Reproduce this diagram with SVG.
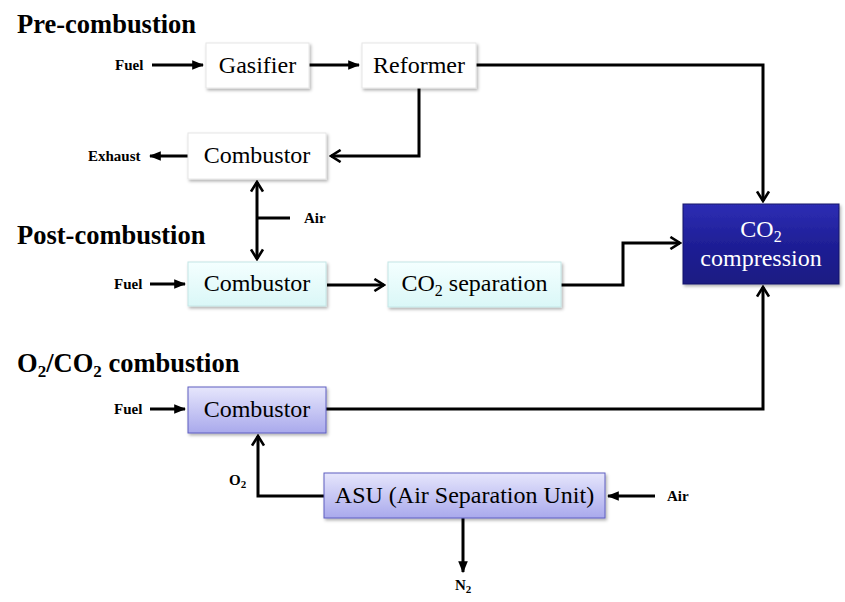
<svg xmlns="http://www.w3.org/2000/svg" width="845" height="602" viewBox="0 0 845 602">
<defs>
<filter id="sh" x="-10%" y="-10%" width="130%" height="140%">
<feDropShadow dx="1.5" dy="2" stdDeviation="1.5" flood-color="#000" flood-opacity="0.3"/>
</filter>
<linearGradient id="gCyan" x1="0" y1="0" x2="0" y2="1">
<stop offset="0" stop-color="#f4ffff"/><stop offset="1" stop-color="#daf7f7"/>
</linearGradient>
<linearGradient id="gLav" x1="0" y1="0" x2="0" y2="1">
<stop offset="0" stop-color="#e6e6fc"/><stop offset="1" stop-color="#a9a9ec"/>
</linearGradient>
<linearGradient id="gNavy" x1="0" y1="0" x2="0" y2="1">
<stop offset="0" stop-color="#2d2db4"/><stop offset="0.5" stop-color="#1f1f96"/><stop offset="1" stop-color="#1a1a82"/>
</linearGradient>
<marker id="tri" viewBox="0 0 10 10" refX="9" refY="5" markerWidth="4" markerHeight="4" orient="auto" markerUnits="strokeWidth">
<path d="M0,1 L10,5 L0,9 Z" fill="#000"/>
</marker>
<marker id="chev" viewBox="0 0 12 12" refX="10" refY="6" markerWidth="4.8" markerHeight="4.8" orient="auto" markerUnits="strokeWidth">
<path d="M2,1 L10,6 L2,11" fill="none" stroke="#000" stroke-width="2.2"/>
</marker>
<style>
text{font-family:'Liberation Serif','DejaVu Serif',serif}
.head{font-weight:bold;font-size:26.5px;fill:#000}
.lab{font-weight:bold;font-size:15px;fill:#000}
.bt{font-size:24px;fill:#000;text-anchor:middle}
.wt{font-size:24px;fill:#fff;text-anchor:middle}
.line{fill:none;stroke:#000;stroke-width:3}
.w{fill:#fff;stroke:#e6e6e6;stroke-width:1}
.c{fill:url(#gCyan);stroke:#c4e6e6;stroke-width:1}
.l{fill:url(#gLav);stroke:#5e5ec0;stroke-width:1}
.n{fill:url(#gNavy);stroke:#15156a;stroke-width:1}
</style>
</defs>
<rect width="845" height="602" fill="#fff"/>

<text class="head" x="17" y="33">Pre-combustion</text>
<text class="head" x="17" y="244">Post-combustion</text>
<text class="head" x="17" y="372">O<tspan font-size="17" dy="5">2</tspan><tspan dy="-5">/CO</tspan><tspan font-size="17" dy="5">2</tspan><tspan dy="-5"> combustion</tspan></text>

<g id="labels">
<text class="lab" x="115" y="70">Fuel</text>
<text class="lab" x="88" y="161">Exhaust</text>
<text class="lab" x="304" y="223">Air</text>
<text class="lab" x="114" y="289">Fuel</text>
<text class="lab" x="114" y="414">Fuel</text>
<text class="lab" x="229" y="485">O<tspan font-size="11" dy="3">2</tspan></text>
<text class="lab" x="667" y="501">Air</text>
<text class="lab" x="455" y="590">N<tspan font-size="11" dy="3">2</tspan></text>
</g>

<g id="connectors">
<path class="line" d="M152,65 H203" marker-end="url(#tri)"/>
<path class="line" d="M309,65 H359" marker-end="url(#tri)"/>
<path class="line" d="M476,65 H763 V201" marker-end="url(#chev)"/>
<path class="line" d="M419,88 V156 H331" marker-end="url(#chev)"/>
<path class="line" d="M188,156 H150" marker-end="url(#tri)"/>
<path class="line" d="M257,218 V182" marker-end="url(#chev)"/>
<path class="line" d="M257,218 V259" marker-end="url(#chev)"/>
<path class="line" d="M257,218 H290"/>
<path class="line" d="M150,284 H185" marker-end="url(#tri)"/>
<path class="line" d="M327,285 H384" marker-end="url(#chev)"/>
<path class="line" d="M561,285 H623 V243 H680" marker-end="url(#chev)"/>
<path class="line" d="M150,409 H185" marker-end="url(#tri)"/>
<path class="line" d="M326,409 H763 V287" marker-end="url(#chev)"/>
<path class="line" d="M324,496 H258 V436" marker-end="url(#chev)"/>
<path class="line" d="M655,496 H608" marker-end="url(#tri)"/>
<path class="line" d="M463,518 V572" marker-end="url(#tri)"/>
</g>

<g id="gasifier"><rect class="w" x="206" y="43" width="103" height="45" filter="url(#sh)"/><text class="bt" x="257.5" y="73">Gasifier</text></g>
<g id="reformer"><rect class="w" x="362" y="43" width="114" height="45" filter="url(#sh)"/><text class="bt" x="419" y="73">Reformer</text></g>
<g id="combustor-pre"><rect class="w" x="188" y="133" width="138" height="46" filter="url(#sh)"/><text class="bt" x="257" y="163">Combustor</text></g>
<g id="combustor-post"><rect class="c" x="188" y="262" width="138" height="44" filter="url(#sh)"/><text class="bt" x="257" y="291">Combustor</text></g>
<g id="co2-separation"><rect class="c" x="388" y="262" width="173" height="45" filter="url(#sh)"/><text class="bt" x="474.5" y="291">CO<tspan font-size="16" dy="5">2</tspan><tspan dy="-5"> separation</tspan></text></g>
<g id="co2-compression"><rect class="n" x="683" y="204" width="156" height="80" filter="url(#sh)"/><text class="wt" x="761" y="237">CO<tspan font-size="16" dy="5">2</tspan></text><text class="wt" x="761" y="266">compression</text></g>
<g id="combustor-oxy"><rect class="l" x="188" y="387" width="138" height="46" filter="url(#sh)"/><text class="bt" x="257" y="417">Combustor</text></g>
<g id="asu"><rect class="l" x="324" y="473" width="281" height="45" filter="url(#sh)"/><text class="bt" x="464.5" y="503">ASU (Air Separation Unit)</text></g>
</svg>
